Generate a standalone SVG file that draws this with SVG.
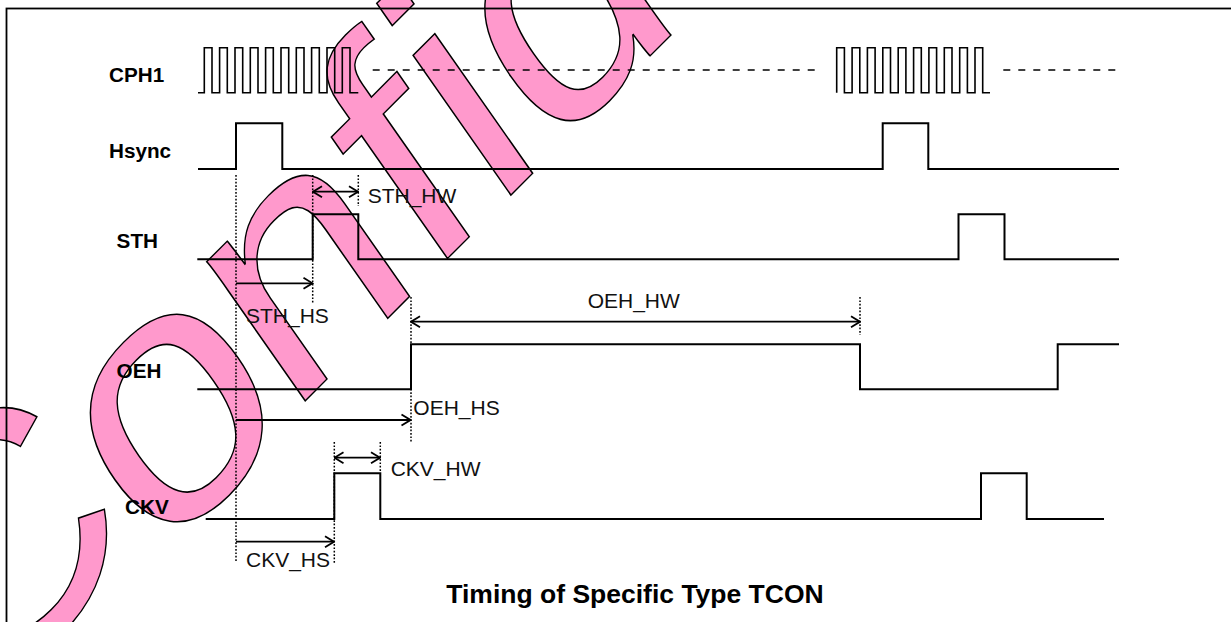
<svg xmlns="http://www.w3.org/2000/svg" width="1231" height="622" viewBox="0 0 1231 622">
<style>
.sig{fill:none;stroke:#000;stroke-width:2;stroke-linejoin:miter}
.clk{fill:none;stroke:#000;stroke-width:1.6}
.dash{fill:none;stroke:#000;stroke-width:1.6;stroke-dasharray:7 8}
.dot{fill:none;stroke:#000;stroke-width:1.5;stroke-dasharray:1.7 1.7}
.arr{fill:none;stroke:#000;stroke-width:1.8}
.lbl{font-family:"Liberation Sans",Arial,sans-serif;font-weight:bold;font-size:20.7px;fill:#000}
.txt{font-family:"Liberation Sans",Arial,sans-serif;font-size:21px;fill:#111}
.title{font-family:"Liberation Sans",Arial,sans-serif;font-weight:bold;font-size:26.5px;fill:#000}
.wm{font-family:"Liberation Sans",Arial,sans-serif;font-size:318px;fill:#FF99CC;stroke:#000;stroke-width:1.5}
</style>
<defs>
<marker id="ah" viewBox="-10 -7 11 14" refX="0" refY="0" markerWidth="11" markerHeight="14" markerUnits="userSpaceOnUse" orient="auto-start-reverse">
<path d="M-9,-5.5 L0,0 L-9,5.5" fill="none" stroke="#000" stroke-width="1.8"/>
</marker>
</defs>
<rect x="0" y="0" width="1231" height="622" fill="#fff"/>
<g id="watermark" transform="translate(-28,734) rotate(-45) skewX(-10) scale(1.1,1)">
<text class="wm" x="0" y="0" transform="translate(1.5,-10.6)" vector-effect="non-scaling-stroke">C</text>
<text class="wm" x="229.6" y="0" transform="translate(321.5,-77.3) scale(1.05) translate(-318,83)" vector-effect="non-scaling-stroke">o</text>
<text class="wm" x="406.4" y="0" vector-effect="non-scaling-stroke">nfidential</text>
</g>
<rect id="frame" x="6.5" y="8.5" width="1400" height="800" fill="none" stroke="#000" stroke-width="1.8"/>
<g id="CPH1">
<text class="lbl" x="109" y="81.7">CPH1</text>
<path class="clk" d="M198,92.7 H204.3 V47.7 H212 V92.7 H219.6 V47.7 H227.3 V92.7 H235 V47.7 H242.7 V92.7 H250.3 V47.7 H258 V92.7 H265.6 V47.7 H273.3 V92.7 H281 V47.7 H288.7 V92.7 H296.3 V47.7 H304 V92.7 H311.6 V47.7 H319.3 V92.7 H327 V47.7 H334.7 V92.7 H342.3 V47.7 H350 V92.7 H358.3"/>
<path class="dash" d="M372.7,70 H815"/>
<path class="clk" d="M836.7,92.7 V47.7 H844.4 V92.7 H852.1 V47.7 H859.8 V92.7 H867.4 V47.7 H875.1 V92.7 H882.8 V47.7 H890.5 V92.7 H898.2 V47.7 H905.9 V92.7 H913.6 V47.7 H921.3 V92.7 H928.9 V47.7 H936.6 V92.7 H944.3 V47.7 H952 V92.7 H959.7 V47.7 H967.4 V92.7 H975 V47.7 H982.7 V92.7 H990"/>
<path class="dash" d="M1003.3,70 H1118"/>
</g>
<g id="Hsync">
<text class="lbl" x="109" y="158">Hsync</text>
<path class="sig" d="M198,169 H236 V123.3 H282.3 V169 H882.7 V123.3 H928.3 V169 H1119"/>
</g>
<g id="STH">
<text class="lbl" x="116.6" y="248.3">STH</text>
<path class="sig" d="M197.3,259.3 H312.7 V214.3 H358.3 V259.3 H958.5 V214.3 H1004.5 V259.3 H1119"/>
</g>
<g id="OEH">
<text class="lbl" x="116.6" y="377.7">OEH</text>
<path class="sig" d="M197.3,389.3 H411 V344.3 H860 V389.3 H1057.7 V344.3 H1119"/>
</g>
<g id="CKV">
<text class="lbl" x="125" y="514.3">CKV</text>
<path class="sig" d="M205.7,519 H334.3 V473.3 H380.3 V519 H981 V473.3 H1026.7 V519 H1104"/>
</g>
<g id="connectors">
<path class="dot" d="M236,175 V562"/>
<path class="dot" d="M312.7,175 V303"/>
<path class="dot" d="M358.3,175 V206"/>
<path class="dot" d="M411,297 V442"/>
<path class="dot" d="M860,297 V335"/>
<path class="dot" d="M334.3,442 V563"/>
<path class="dot" d="M380.3,442 V472"/>
<path class="arr" d="M313,191.7 H358" marker-start="url(#ah)" marker-end="url(#ah)"/>
<path class="arr" d="M236,283.3 H312.5" marker-end="url(#ah)"/>
<path class="arr" d="M411,321.7 H860" marker-start="url(#ah)" marker-end="url(#ah)"/>
<path class="arr" d="M236,420 H410.5" marker-end="url(#ah)"/>
<path class="arr" d="M334.5,457.7 H380" marker-start="url(#ah)" marker-end="url(#ah)"/>
<path class="arr" d="M236,541.7 H334" marker-end="url(#ah)"/>
</g>
<g id="labels">
<text class="txt" x="367.7" y="202.7">STH_HW</text>
<text class="txt" x="246" y="323.3">STH_HS</text>
<text class="txt" x="587.7" y="308">OEH_HW</text>
<text class="txt" x="413.3" y="415">OEH_HS</text>
<text class="txt" x="390.7" y="475.7">CKV_HW</text>
<text class="txt" x="246" y="567.3">CKV_HS</text>
</g>
<g id="title">
<text class="title" x="635" y="603" text-anchor="middle">Timing of Specific Type TCON</text>
</g>
</svg>
